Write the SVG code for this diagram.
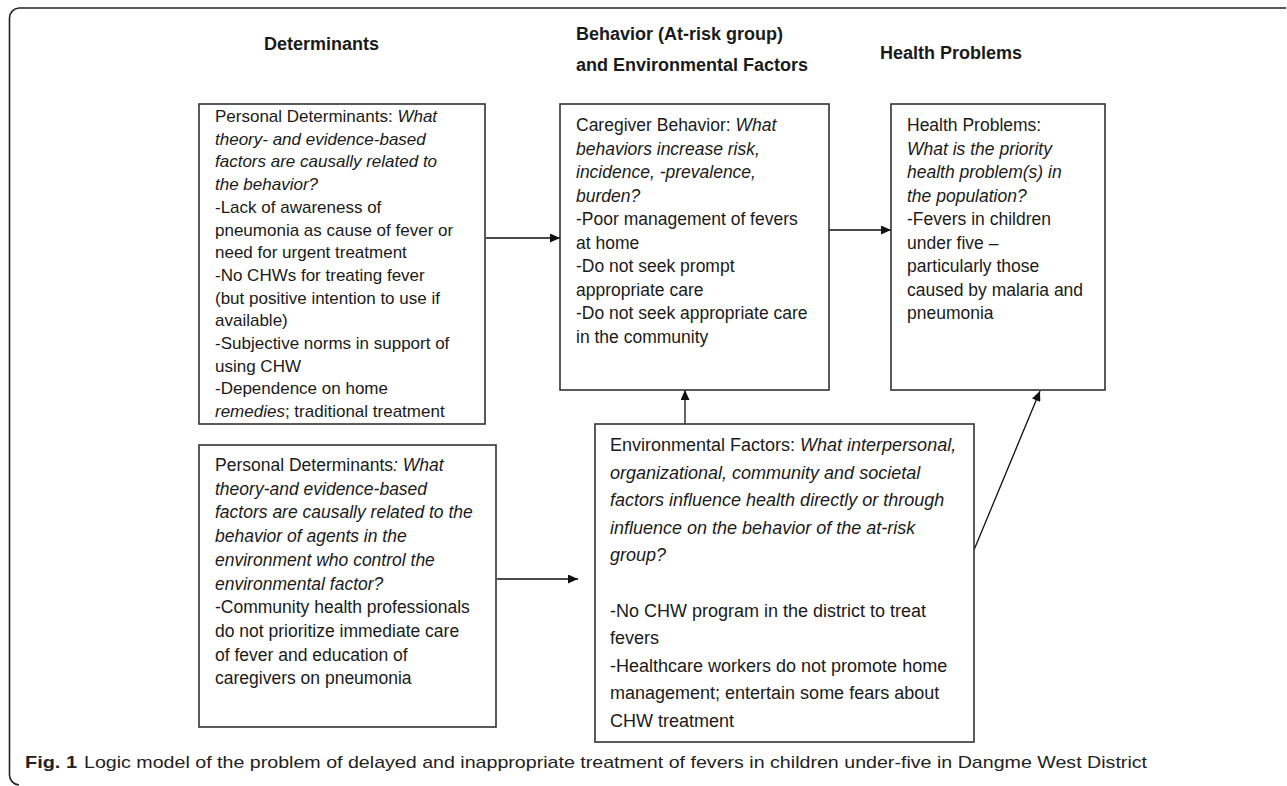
<svg xmlns="http://www.w3.org/2000/svg" width="1287" height="786" viewBox="0 0 1287 786">
<defs>
<marker id="ah" viewBox="0 0 10 9" refX="10" refY="4.5" markerWidth="10" markerHeight="9" markerUnits="userSpaceOnUse" orient="auto">
<path d="M0,0 L10,4.5 L0,9 z" fill="#111"/>
</marker>
<style>
.box{fill:#fff;stroke:#333;stroke-width:1.6}
.t{font-family:"Liberation Sans",Arial,sans-serif;font-size:17.5px;fill:#1a1a1a}
.s1{font-size:17px}
.s3{font-size:18px}
.i{font-style:italic}
.h{font-family:"Liberation Sans",Arial,sans-serif;font-size:18px;font-weight:bold;fill:#1a1a1a}
.cap{font-family:"Liberation Sans",Arial,sans-serif;font-size:17px;fill:#222}
.c{stroke:#111;stroke-width:1.3;fill:none;marker-end:url(#ah)}
</style>
</defs>
<rect width="1287" height="786" fill="#fff"/>
<path d="M1286,8 H19 A10,10 0 0 0 9.5,18 V775 A10,10 0 0 0 19,785" fill="none" stroke="#222" stroke-width="1.6"/>

<g id="headers">
<text class="h" x="264" y="50">Determinants</text>
<text class="h" x="576" y="40">Behavior (At-risk group)</text>
<text class="h" x="576" y="71">and Environmental Factors</text>
<text class="h" x="880" y="59">Health Problems</text>
</g>

<g id="connectors">
<line class="c" x1="486" y1="238" x2="560" y2="238"/>
<line class="c" x1="829" y1="230" x2="891" y2="230"/>
<line class="c" x1="685" y1="424" x2="685" y2="390"/>
<line class="c" x1="497" y1="579" x2="578" y2="579"/>
<line class="c" x1="974" y1="550" x2="1040" y2="391"/>
</g>

<g id="personal-determinants-1">
<rect class="box" x="199" y="104" width="286" height="320"/>
<text class="t s1" x="215" y="122">Personal Determinants: <tspan class="i">What</tspan></text>
<text class="t s1 i" x="215" y="144.7">theory- and evidence-based</text>
<text class="t s1 i" x="215" y="167.4">factors are causally related to</text>
<text class="t s1 i" x="215" y="190.1">the behavior?</text>
<text class="t s1" x="215" y="212.8">-Lack of awareness of</text>
<text class="t s1" x="215" y="235.5">pneumonia as cause of fever or</text>
<text class="t s1" x="215" y="258.2">need for urgent treatment</text>
<text class="t s1" x="215" y="280.9">-No CHWs for treating fever</text>
<text class="t s1" x="215" y="303.6">(but positive intention to use if</text>
<text class="t s1" x="215" y="326.3">available)</text>
<text class="t s1" x="215" y="349">-Subjective norms in support of</text>
<text class="t s1" x="215" y="371.7">using CHW</text>
<text class="t s1" x="215" y="394.4">-Dependence on home</text>
<text class="t s1" x="215" y="417.1"><tspan class="i">remedies</tspan>; traditional treatment</text>
</g>

<g id="caregiver-behavior">
<rect class="box" x="560" y="104" width="269" height="286"/>
<text class="t" x="576" y="131">Caregiver Behavior: <tspan class="i">What</tspan></text>
<text class="t i" x="576" y="154.5">behaviors increase risk,</text>
<text class="t i" x="576" y="178">incidence, -prevalence,</text>
<text class="t i" x="576" y="201.5">burden?</text>
<text class="t" x="576" y="225">-Poor management of fevers</text>
<text class="t" x="576" y="248.5">at home</text>
<text class="t" x="576" y="272">-Do not seek prompt</text>
<text class="t" x="576" y="295.5">appropriate care</text>
<text class="t" x="576" y="319">-Do not seek appropriate care</text>
<text class="t" x="576" y="342.5">in the community</text>
</g>

<g id="health-problems">
<rect class="box" x="891" y="104" width="214" height="286"/>
<text class="t" x="907" y="131">Health Problems:</text>
<text class="t i" x="907" y="154.5">What is the priority</text>
<text class="t i" x="907" y="178">health problem(s) in</text>
<text class="t i" x="907" y="201.5">the population?</text>
<text class="t" x="907" y="225">-Fevers in children</text>
<text class="t" x="907" y="248.5">under five –</text>
<text class="t" x="907" y="272">particularly those</text>
<text class="t" x="907" y="295.5">caused by malaria and</text>
<text class="t" x="907" y="319">pneumonia</text>
</g>

<g id="personal-determinants-2">
<rect class="box" x="199" y="445" width="297" height="282"/>
<text class="t" x="215" y="471">Personal Determinants<tspan class="i">: What</tspan></text>
<text class="t i" x="215" y="494.7">theory-and evidence-based</text>
<text class="t i" x="215" y="518.4">factors are causally related to the</text>
<text class="t i" x="215" y="542.1">behavior of agents in the</text>
<text class="t i" x="215" y="565.8">environment who control the</text>
<text class="t i" x="215" y="589.5">environmental factor?</text>
<text class="t" x="215" y="613.2">-Community health professionals</text>
<text class="t" x="215" y="636.9">do not prioritize immediate care</text>
<text class="t" x="215" y="660.6">of fever and education of</text>
<text class="t" x="215" y="684.3">caregivers on pneumonia</text>
</g>

<g id="environmental-factors">
<rect class="box" x="595" y="424" width="379" height="318"/>
<text class="t s3" x="610" y="451">Environmental Factors: <tspan class="i">What interpersonal,</tspan></text>
<text class="t s3 i" x="610" y="478.6">organizational, community and societal</text>
<text class="t s3 i" x="610" y="506.2">factors influence health directly or through</text>
<text class="t s3 i" x="610" y="533.8">influence on the behavior of the at-risk</text>
<text class="t s3 i" x="610" y="561.4">group?</text>
<text class="t s3" x="610" y="616.6">-No CHW program in the district to treat</text>
<text class="t s3" x="610" y="644.2">fevers</text>
<text class="t s3" x="610" y="671.8">-Healthcare workers do not promote home</text>
<text class="t s3" x="610" y="699.4">management; entertain some fears about</text>
<text class="t s3" x="610" y="727">CHW treatment</text>
</g>

<g id="caption">
<text class="cap" x="25" y="768" font-weight="bold" textLength="52" lengthAdjust="spacingAndGlyphs">Fig. 1</text>
<text class="cap" x="84" y="768" textLength="1063" lengthAdjust="spacingAndGlyphs">Logic model of the problem of delayed and inappropriate treatment of fevers in children under-five in Dangme West District</text>
</g>
</svg>
